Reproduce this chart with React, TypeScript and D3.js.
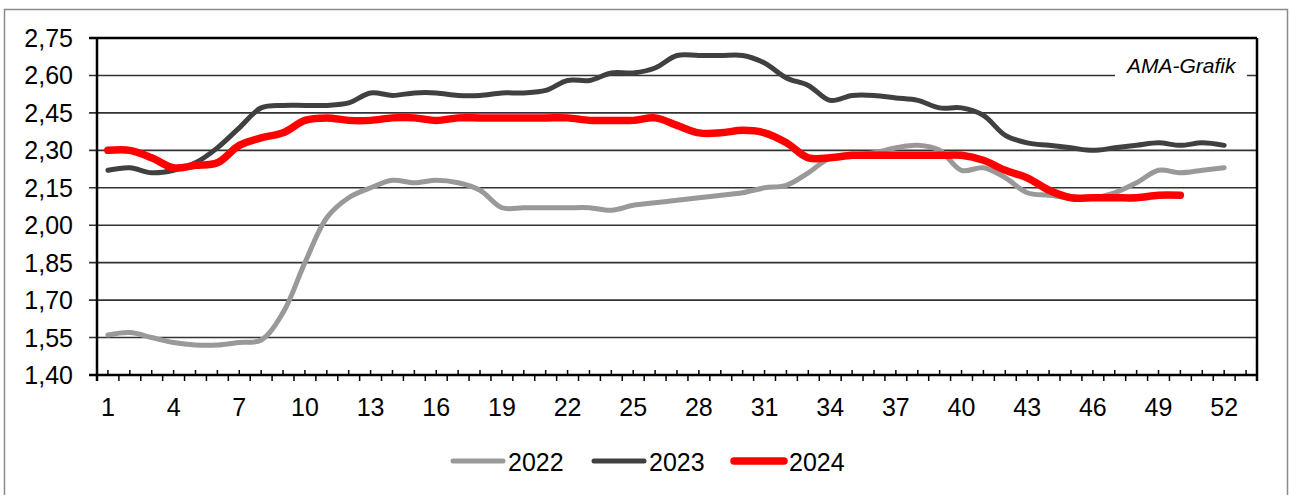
import { useEffect, useRef } from 'react';
import * as d3 from 'd3';

const weeks = d3.range(1, 54);
const yTicks = [1.4, 1.55, 1.7, 1.85, 2.0, 2.15, 2.3, 2.45, 2.6, 2.75];
const xLabelWeeks = [1, 4, 7, 10, 13, 16, 19, 22, 25, 28, 31, 34, 37, 40, 43, 46, 49, 52];

const values2022 = [
  1.56, 1.57, 1.55, 1.53, 1.52, 1.52, 1.53, 1.54, 1.65, 1.85,
  2.03, 2.11, 2.15, 2.18, 2.17, 2.18, 2.17, 2.14, 2.07, 2.07,
  2.07, 2.07, 2.07, 2.06, 2.08, 2.09, 2.1, 2.11, 2.12, 2.13,
  2.15, 2.16, 2.21, 2.27, 2.28, 2.29, 2.31, 2.32, 2.3, 2.22,
  2.23, 2.19, 2.13, 2.12, 2.11, 2.11, 2.13, 2.17, 2.22, 2.21,
  2.22, 2.23,
];
const values2023 = [
  2.22, 2.23, 2.21, 2.22, 2.25, 2.31, 2.39, 2.47, 2.48, 2.48,
  2.48, 2.49, 2.53, 2.52, 2.53, 2.53, 2.52, 2.52, 2.53, 2.53,
  2.54, 2.58, 2.58, 2.61, 2.61, 2.63, 2.68, 2.68, 2.68, 2.68,
  2.65, 2.59, 2.56, 2.5, 2.52, 2.52, 2.51, 2.5, 2.47, 2.47,
  2.44, 2.36, 2.33, 2.32, 2.31, 2.3, 2.31, 2.32, 2.33, 2.32,
  2.33, 2.32,
];
const values2024 = [
  2.3, 2.3, 2.27, 2.23, 2.24, 2.25, 2.32, 2.35, 2.37, 2.42,
  2.43, 2.42, 2.42, 2.43, 2.43, 2.42, 2.43, 2.43, 2.43, 2.43,
  2.43, 2.43, 2.42, 2.42, 2.42, 2.43, 2.4, 2.37, 2.37, 2.38,
  2.37, 2.33, 2.27, 2.27, 2.28, 2.28, 2.28, 2.28, 2.28, 2.28,
  2.26, 2.22, 2.19, 2.14, 2.11, 2.11, 2.11, 2.11, 2.12, 2.12,
];

const series = [
  { name: '2022', values: values2022, color: '#999999', width: 5 },
  { name: '2023', values: values2023, color: '#404040', width: 5 },
  { name: '2024', values: values2024, color: '#ff0000', width: 7.5 },
];

const W = 1290;
const H = 495;
const margin = { left: 97, right: 1257, top: 38, bottom: 375 };
const font = '"Liberation Sans", Arial, sans-serif';

export default function App() {
  const svgRef = useRef<SVGSVGElement>(null);

  useEffect(() => {
    if (!svgRef.current) return;
    const svg = d3.select(svgRef.current);
    svg.selectAll('*').remove();

    const x = d3.scaleBand<number>()
      .domain(weeks)
      .range([margin.left, margin.right])
      .paddingInner(0)
      .paddingOuter(0);
    const bw = x.bandwidth();
    const cx = (w: number) => (x(w) ?? 0) + bw / 2;

    const y = d3.scaleLinear()
      .domain([1.4, 2.75])
      .range([margin.bottom, margin.top]);

    const fmt = (v: number) => d3.format('.2f')(v).replace('.', ',');

    // outer frame
    svg.append('rect')
      .attr('x', 4.5).attr('y', 9.5)
      .attr('width', 1283).attr('height', 500)
      .attr('fill', '#fff')
      .attr('stroke', '#8a8a8a')
      .attr('stroke-width', 1.5);

    // gridlines + y ticks
    svg.append('g')
      .selectAll('line')
      .data(yTicks)
      .enter()
      .append('line')
      .attr('x1', margin.left - 8)
      .attr('x2', margin.right)
      .attr('y1', d => y(d))
      .attr('y2', d => y(d))
      .attr('stroke', d => (d === 2.75 ? '#000' : '#333'))
      .attr('stroke-width', d => (d === 2.75 ? 2.5 : 1.6));

    svg.append('g')
      .selectAll('text')
      .data(yTicks)
      .enter()
      .append('text')
      .attr('x', 73)
      .attr('y', d => y(d) + 9)
      .attr('text-anchor', 'end')
      .attr('font-family', font)
      .attr('font-size', 25)
      .attr('fill', '#000')
      .text(d => fmt(d));

    // watermark label with white box over gridline
    svg.append('rect')
      .attr('x', 1115).attr('y', 56)
      .attr('width', 132).attr('height', 24)
      .attr('fill', '#fff');
    svg.append('text')
      .attr('x', 1127).attr('y', 73)
      .attr('font-family', font)
      .attr('font-style', 'italic')
      .attr('font-size', 21)
      .attr('fill', '#000')
      .text('AMA-Grafik');

    // lines
    const line = d3.line<number>()
      .x((_, i) => cx(weeks[i]))
      .y(d => y(d))
      .curve(d3.curveCatmullRom.alpha(0.5));

    svg.append('g')
      .selectAll('path')
      .data(series)
      .enter()
      .append('path')
      .attr('d', d => line(d.values) || '')
      .attr('fill', 'none')
      .attr('stroke', d => d.color)
      .attr('stroke-width', d => d.width)
      .attr('stroke-linecap', 'round')
      .attr('stroke-linejoin', 'round');

    // plot frame (left, right)
    svg.append('line')
      .attr('x1', margin.left).attr('x2', margin.left)
      .attr('y1', margin.top).attr('y2', margin.bottom + 6)
      .attr('stroke', '#000').attr('stroke-width', 2.5);
    svg.append('line')
      .attr('x1', margin.right).attr('x2', margin.right)
      .attr('y1', margin.top).attr('y2', margin.bottom + 6)
      .attr('stroke', '#000').attr('stroke-width', 2.5);

    // x axis line and ticks
    svg.append('line')
      .attr('x1', margin.left - 8).attr('x2', margin.right)
      .attr('y1', margin.bottom).attr('y2', margin.bottom)
      .attr('stroke', '#000').attr('stroke-width', 2.5);

    svg.append('g')
      .selectAll('line')
      .data(weeks)
      .enter()
      .append('line')
      .attr('x1', d => cx(d)).attr('x2', d => cx(d))
      .attr('y1', margin.bottom - 5).attr('y2', margin.bottom)
      .attr('stroke', '#000').attr('stroke-width', 1.5);

    svg.append('g')
      .selectAll('line')
      .data(weeks.slice(1))
      .enter()
      .append('line')
      .attr('x1', d => x(d) ?? 0).attr('x2', d => x(d) ?? 0)
      .attr('y1', margin.bottom).attr('y2', margin.bottom + 6)
      .attr('stroke', '#000').attr('stroke-width', 1.5);

    svg.append('g')
      .selectAll('text')
      .data(xLabelWeeks)
      .enter()
      .append('text')
      .attr('x', d => cx(d))
      .attr('y', 416)
      .attr('text-anchor', 'middle')
      .attr('font-family', font)
      .attr('font-size', 25)
      .attr('fill', '#000')
      .text(d => String(d));

    // legend
    const legendX = [451, 592, 732];
    const lg = svg.append('g')
      .selectAll('g')
      .data(series)
      .enter()
      .append('g')
      .attr('transform', (_, i) => `translate(${legendX[i]}, 461)`);
    lg.append('line')
      .attr('x1', 2).attr('x2', 52)
      .attr('y1', 0).attr('y2', 0)
      .attr('stroke', d => d.color)
      .attr('stroke-width', d => d.width)
      .attr('stroke-linecap', 'round');
    lg.append('text')
      .attr('x', 57)
      .attr('y', 9.5)
      .attr('font-family', font)
      .attr('font-size', 25)
      .attr('fill', '#000')
      .text(d => d.name);
  }, []);

  return (
    <svg
      ref={svgRef}
      width={W}
      height={H}
      style={{ position: 'absolute', left: 0, top: 0, background: '#fff' }}
    />
  );
}
